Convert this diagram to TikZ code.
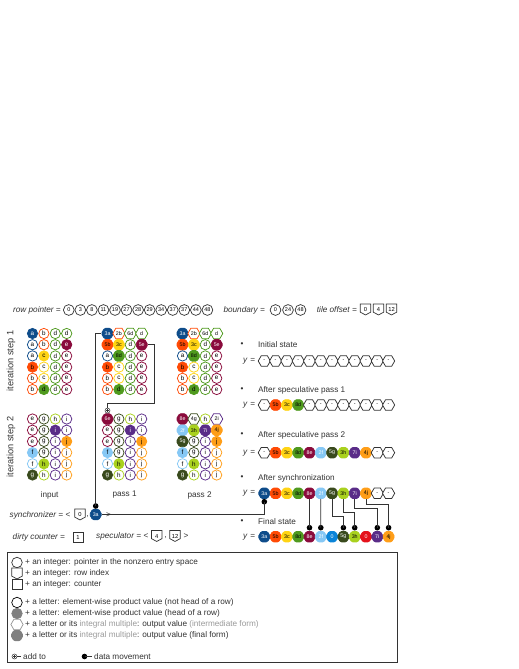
\documentclass[tikz,border=0pt]{standalone}
\usepackage{fontspec}
\setmainfont{Liberation Sans}
\usetikzlibrary{shapes.geometric}
\definecolor{ca}{HTML}{0E4C8A}
\definecolor{cb}{HTML}{FF4A05}
\definecolor{cc}{HTML}{FFD414}
\definecolor{cd}{HTML}{4F9A1E}
\definecolor{ce}{HTML}{8A0B3C}
\definecolor{cf}{HTML}{86C8F5}
\definecolor{cg}{HTML}{394A1D}
\definecolor{ch}{HTML}{A9D11E}
\definecolor{ci}{HTML}{5A2C88}
\definecolor{cj}{HTML}{FF9E18}
\definecolor{czb}{HTML}{0A84D8}
\definecolor{czr}{HTML}{E5121C}
\definecolor{ink}{HTML}{333333}
\definecolor{lgray}{HTML}{9A9A9A}
\tikzset{
  lbl/.style={font=\fontsize{8.2}{9.8}\selectfont, inner sep=0pt, text=ink},
  ilbl/.style={lbl, font=\fontsize{8.2}{9.8}\selectfont\itshape},
  cellbase/.style={inner sep=0pt, line width=0.75pt, font=\fontsize{6.3}{6.3}\selectfont, text=black},
  oc/.style={cellbase, circle, minimum size=10.3pt, draw=#1, fill=white},
  fc/.style={cellbase, circle, minimum size=10.3pt, draw=#1, fill=#1},
  fcw/.style={fc=#1, text=white},
  hexbase/.style={cellbase, regular polygon, regular polygon sides=6, minimum size=12.2pt, font=\fontsize{5.3}{5.3}\selectfont},
  oh/.style={hexbase, draw=#1, fill=white},
  fh/.style={hexbase, draw=#1, fill=#1, rounded corners=1.3pt},
  fhw/.style={fh=#1, text=white},
  numc/.style={circle, draw=ink, line width=0.7pt, minimum size=10.8pt, inner sep=0pt, font=\fontsize{5.5}{5.5}\selectfont, text=black},
  ridxn/.style={inner sep=0pt, minimum width=10pt, minimum height=10.5pt, font=\fontsize{5.8}{5.8}\selectfont, text=black},
  ridxd/.style={draw=ink, line width=0.7pt},
  cntbox/.style={rectangle, draw=ink, line width=0.7pt, minimum size=10pt, inner sep=0pt, font=\fontsize{5.8}{5.8}\selectfont, text=black},
  conn/.style={draw=ink, line width=0.8pt},
  bdot/.style={circle, fill=black, minimum size=5.6pt, inner sep=0pt},
  addsym/.style={circle, draw=ink, fill=white, line width=0.5pt, minimum size=5pt, inner sep=0pt,
    path picture={\draw[line width=0.4pt] ([xshift=-1.4pt]path picture bounding box.center) -- ([xshift=1.4pt]path picture bounding box.center);
      \draw[line width=0.4pt] ([yshift=-1.4pt]path picture bounding box.center) -- ([yshift=1.4pt]path picture bounding box.center);}},
}
\newcommand{\ridx}[4]{%
  \node[ridxn] (#1) at (#2,#3) {#4};
  \draw[ridxd] (#1.north west) -- (#1.north east) -- ([yshift=2.8pt]#1.south east) -- (#1.south) -- ([yshift=2.8pt]#1.south west) -- cycle;}
\newcommand{\drawmat}[4]{%
  \foreach \rowl [count=\ri] in #4 {%
    \foreach \mty/\mco/\mlb [count=\ki] in \rowl {%
      \pgfmathsetmacro\xx{#2+11.4*(\ki-1)}%
      \pgfmathsetmacro\yy{#3+11.2*(\ri-1)}%
      \edef\tmpcmd{\noexpand\node[\mty=\mco] (#1-\ri-\ki) at (\xx,\yy) {\mlb};}\tmpcmd
    }%
  }%
}
\newcommand{\drawyrow}[3]{%
  \foreach \mty/\mco/\mlb [count=\ki] in #3 {%
    \pgfmathsetmacro\xx{264.3+11.3*(\ki-1)}%
    \edef\tmpcmd{\noexpand\node[\mty=\mco] (#1-\ki) at (\xx,#2) {\mlb};}\tmpcmd
  }%
}
\def\matInA{{fcw/ca/a,oc/cb/b,oc/cd/d,oc/cd/d},{oc/ca/a,oc/cb/b,oc/cd/d,fcw/ce/e},{oc/ca/a,fc/cc/c,oc/cd/d,oc/ce/e},{fc/cb/b,oc/cc/c,oc/cd/d,oc/ce/e},{oc/cb/b,oc/cc/c,oc/cd/d,oc/ce/e},{oc/cb/b,fc/cd/d,oc/cd/d,oc/ce/e}}
\def\matInB{{oc/ce/e,oc/cg/g,oc/ch/h,oc/ci/i},{oc/ce/e,oc/cg/g,fcw/ci/i,oc/ci/i},{oc/ce/e,oc/cg/g,oc/ci/i,fc/cj/j},{fc/cf/f,oc/cg/g,oc/ci/i,oc/cj/j},{oc/cf/f,fc/ch/h,oc/ci/i,oc/cj/j},{fcw/cg/g,oc/ch/h,oc/ci/i,oc/cj/j}}
\def\matPA{{fhw/ca/3a,oh/cb/2b,oh/cd/6d,oh/cd/d},{fh/cb/5b,fh/cc/3c,oc/cd/d,fhw/ce/5e},{oc/ca/a,fh/cd/8d,oc/cd/d,oc/ce/e},{fc/cb/b,oc/cc/c,oc/cd/d,oc/ce/e},{oc/cb/b,oc/cc/c,oc/cd/d,oc/ce/e},{oc/cb/b,fc/cd/d,oc/cd/d,oc/ce/e}}
\def\matPB{{fhw/ce/6e,oc/cg/g,oc/ch/h,oc/ci/i},{oc/ce/e,oc/cg/g,fcw/ci/i,oc/ci/i},{oc/ce/e,oc/cg/g,oc/ci/i,fc/cj/j},{fc/cf/f,oc/cg/g,oc/ci/i,oc/cj/j},{oc/cf/f,fc/ch/h,oc/ci/i,oc/cj/j},{fcw/cg/g,oc/ch/h,oc/ci/i,oc/cj/j}}
\def\matQB{{fhw/ce/8e,oh/cg/4g,oc/ch/h,oh/ci/2i},{fhw/cf/2f,fh/ch/3h,fhw/ci/7i,fh/cj/4j},{fhw/cg/5g,oc/cg/g,oc/ci/i,fc/cj/j},{fc/cf/f,oc/cg/g,oc/ci/i,oc/cj/j},{oc/cf/f,fc/ch/h,oc/ci/i,oc/cj/j},{fcw/cg/g,oc/ch/h,oc/ci/i,oc/cj/j}}
\def\yInit{oh/ink/-,oh/ink/-,oh/ink/-,oh/ink/-,oh/ink/-,oh/ink/-,oh/ink/-,oh/ink/-,oh/ink/-,oh/ink/-,oh/ink/-,oh/ink/-}
\def\yPA{oh/ink/-,fh/cb/5b,fh/cc/3c,fh/cd/8d,oh/ink/-,oh/ink/-,oh/ink/-,oh/ink/-,oh/ink/-,oh/ink/-,oh/ink/-,oh/ink/-}
\def\yPB{oh/ink/-,fh/cb/5b,fh/cc/3c,fh/cd/8d,fhw/ce/8e,fhw/cf/2f,fhw/cg/5g,fh/ch/3h,fhw/ci/7i,fh/cj/4j,oh/ink/-,oh/ink/-}
\def\ySy{fhw/ca/3a,fh/cb/5b,fh/cc/3c,fh/cd/8d,fhw/ce/8e,fhw/cf/2f,fhw/cg/5g,fh/ch/3h,fhw/ci/7i,fh/cj/4j,oh/ink/-,oh/ink/-}
\def\yFin{fhw/ca/3a,fh/cb/5b,fh/cc/3c,fh/cd/8d,fhw/ce/8e,fhw/cf/2f,fhw/czb/0,fhw/cg/5g,fh/ch/3h,fhw/czr/0,fhw/ci/7i,fh/cj/4j}
\begin{document}
\begin{tikzpicture}[x=1pt,y=-1pt]
\useasboundingbox (0,0) rectangle (519,669);
\fill[white] (0,0) rectangle (519,669);

% ---- header
\node[ilbl, anchor=east] (rpl) at (61,310) {row pointer =};
\foreach \v [count=\ki] in {0,3,8,11,19,27,28,29,34,37,37,44,48}
  \node[numc] (rp-\ki) at ({68.8+11.55*(\ki-1)},310) {\v};
\node[ilbl, anchor=east] (bdl) at (265,310) {boundary =};
\foreach \v [count=\ki] in {0,24,48}
  \node[numc] (bd-\ki) at ({275.5+12.5*(\ki-1)},310) {\v};
\node[ilbl, anchor=east] (tol) at (357,310) {tile offset =};
\ridx{to-1}{365.5}{309.5}{0}
\ridx{to-2}{378.5}{309.5}{4}
\ridx{to-3}{391.5}{309.5}{12}

% ---- matrices
\node[lbl, rotate=90, font=\fontsize{9.2}{10}\selectfont] (it1) at (11,361) {iteration step 1};
\node[lbl, rotate=90, font=\fontsize{9.2}{10}\selectfont] (it2) at (11,447) {iteration step 2};
\drawmat{in1}{32.5}{333.5}{\matInA}
\drawmat{in2}{32.5}{419}{\matInB}
\drawmat{p1a}{107.5}{333.5}{\matPA}
\drawmat{p1b}{107.5}{419}{\matPB}
\drawmat{p2a}{182.5}{333.5}{\matPA}
\drawmat{p2b}{182.5}{419}{\matQB}
\node[lbl] (lin) at (49.6,495) {input};
\node[lbl] (lp1) at (124.6,495) {pass 1};
\node[lbl] (lp2) at (199.6,495) {pass 2};

% add-to connector
\node[addsym] (addc) at (107.5,410.6) {};
\draw[conn] (p1a-2-4.east) -| (154,403) -| (addc.north);

% ---- right side states
\node[lbl] (bu1) at (242,345) {•};
\node[lbl, anchor=west] (st1) at (258,345) {Initial state};
\node[lbl, anchor=west] (ye1) at (243,361) {\textit{y}\hspace{2.6pt}=};
\drawyrow{i}{361}{\yInit}
\node[lbl] (bu2) at (242,390) {•};
\node[lbl, anchor=west] (st2) at (258,390) {After speculative pass 1};
\node[lbl, anchor=west] (ye2) at (243,405) {\textit{y}\hspace{2.6pt}=};
\drawyrow{a}{405}{\yPA}
\node[lbl] (bu3) at (242,435) {•};
\node[lbl, anchor=west] (st3) at (258,435) {After speculative pass 2};
\node[lbl, anchor=west] (ye3) at (243,452.7) {\textit{y}\hspace{2.6pt}=};
\drawyrow{b}{452.7}{\yPB}
\node[lbl] (bu4) at (242,478) {•};
\node[lbl, anchor=west] (st4) at (258,478) {After synchronization};
\node[lbl, anchor=west] (ye4) at (243,493.3) {\textit{y}\hspace{2.6pt}=};
\drawyrow{s}{493.3}{\ySy}
\node[lbl] (bu5) at (242,521.7) {•};
\node[lbl, anchor=west] (st5) at (258,521.7) {Final state};
\node[lbl, anchor=west] (ye5) at (243,536.7) {\textit{y}\hspace{2.6pt}=};
\drawyrow{f}{536.7}{\yFin}

% ---- synchronizer, counters
\node[ilbl, anchor=east] (syl) at (63.5,515) {synchronizer =};
\node[lbl] (sylt) at (68,515) {<};
\ridx{sy0}{80}{514.5}{0}
\node[lbl] (syc) at (87.5,516.5) {,};
\node[fhw=ca] (sy3a) at (95.7,514.5) {3a};
\node[bdot] (sydot) at (95.7,506) {};
\node[bdot] (ydot) at (264.3,501.7) {};
\draw[conn] (p1a-1-1.west) -| (sydot.center);
\draw[conn] (sy3a.east) -| (ydot.center);
\node[lbl] (sygt) at (108.5,515) {>};

\node[ilbl, anchor=west] (dcl) at (12.5,537) {dirty counter =};
\node[cntbox] (dc1) at (78,537) {1};
\node[ilbl, anchor=west] (spl) at (96,536.5) {speculator =};
\node[lbl] (splt) at (146,536.5) {<};
\ridx{sp4}{156.7}{536}{4}
\node[lbl] (spc) at (165.5,538) {,};
\ridx{sp12}{175}{536}{12}
\node[lbl] (spgt) at (186,536.5) {>};

% ---- data movement to final state
\foreach \ki in {5,6,8,9,11,12}
  \node[bdot] (fd-\ki) at ({264.3+11.3*(\ki-1)},527.7) {};
\foreach \sa/\fb in {5/5,6/6}
  \draw[conn] (s-\sa.south) -- (fd-\fb.center);
\foreach \sa/\fb/\lv in {7/8/516,8/9/512,9/11/508,10/12/504}
  \draw[conn] (s-\sa.south) -- (s-\sa.south |- 0,\lv) -| (fd-\fb.center);

% ---- legend
\draw[ink, line width=0.8pt] (7,552) rectangle (397.3,662);
\node[circle, draw=ink, line width=0.7pt, minimum size=10.5pt, inner sep=0pt] (ls1) at (17,562.5) {};
\node[lbl, anchor=west] (lg1) at (25,562.5) {+ an integer: pointer in the nonzero entry space};
\ridx{ls2}{17}{573.5}{}
\node[lbl, anchor=west] (lg2) at (25,573.5) {+ an integer: row index};
\node[cntbox] (ls3) at (17,584.5) {};
\node[lbl, anchor=west] (lg3) at (25,584.5) {+ an integer: counter};
\node[circle, draw=black, line width=0.7pt, minimum size=10.5pt, inner sep=0pt] (ls4) at (17,602.5) {};
\node[lbl, anchor=west] (lg4) at (25,602.5) {+ a letter: element-wise product value (not head of a row)};
\node[circle, draw=gray, fill=gray, line width=0.7pt, minimum size=10.5pt, inner sep=0pt] (ls5) at (17,613.5) {};
\node[lbl, anchor=west] (lg5) at (25,613.5) {+ a letter: element-wise product value (head of a row)};
\node[oh=lgray] (ls6) at (17,624.5) {};
\node[lbl, anchor=west] (lg6) at (25,624.5) {+ a letter or its \textcolor{lgray}{integral multiple}: output value \textcolor{lgray}{(intermediate form)}};
\node[fh=gray] (ls7) at (17,635.5) {};
\node[lbl, anchor=west] (lg7) at (25,635.5) {+ a letter or its \textcolor{lgray}{integral multiple}: output value (final form)};
\node[addsym] (ls8) at (14.5,656.5) {};
\coordinate (ls8e) at (21,656.5);
\draw[conn, line width=0.6pt] (ls8.east) -- (ls8e);
\node[lbl, anchor=west] (lg8) at (23,656.5) {add to};
\node[bdot] (ls9) at (84.5,656.5) {};
\coordinate (ls9e) at (91.5,656.5);
\draw[conn, line width=0.6pt] (ls9.center) -- (ls9e);
\node[lbl, anchor=west] (lg9) at (94,656.5) {data movement};
\end{tikzpicture}
\end{document}
